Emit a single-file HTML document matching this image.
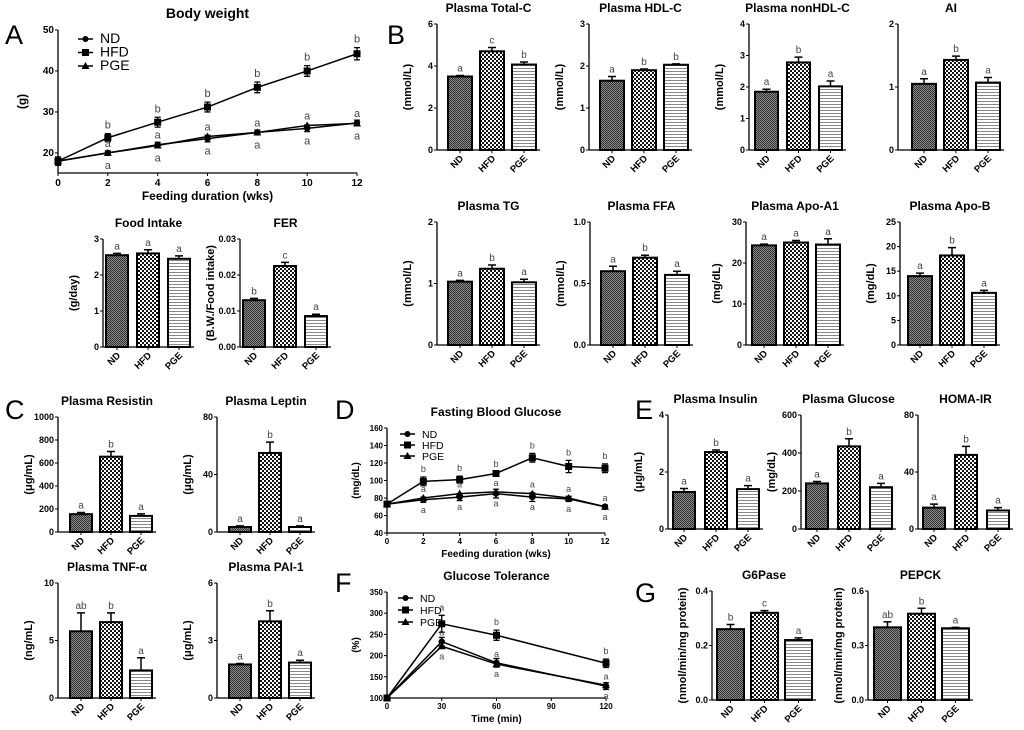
<!DOCTYPE html>
<html><head><meta charset="utf-8"><style>
body{margin:0;background:#fff;}
svg{display:block;font-family:"Liberation Sans",Arial,sans-serif;}
.t{font-weight:bold;}
</style></head><body>
<svg id="fig" width="1024" height="730" viewBox="0 0 1024 730" xmlns="http://www.w3.org/2000/svg">
<defs>
<pattern id="pND" width="2" height="2" patternUnits="userSpaceOnUse"><rect width="2" height="2" fill="#888"/><rect width="1" height="1" fill="#333"/><rect x="1" y="1" width="1" height="1" fill="#333"/></pattern>
<pattern id="pHFD" width="4" height="4" patternUnits="userSpaceOnUse"><rect width="4" height="4" fill="#fff"/><rect width="2" height="2" fill="#111"/><rect x="2" y="2" width="2" height="2" fill="#111"/></pattern>
<pattern id="pPGE" width="3" height="3" patternUnits="userSpaceOnUse"><rect width="3" height="3" fill="#fff"/><rect y="2" width="3" height="1" fill="#888"/></pattern>
</defs>
<g font-size="27">
<text x="5" y="44">A</text>
<text x="387" y="44">B</text>
<text x="5" y="419">C</text>
<text x="335" y="419">D</text>
<text x="635" y="419">E</text>
<text x="335" y="592">F</text>
<text x="635" y="602">G</text>
</g>
</svg>
<script>
const groups = ['ND','HFD','PGE'];
// Bar chart data
const foodVals=[2.55,2.6,2.45], foodErr=[0.05,0.1,0.08], foodLet=['a','a','a'];
const ferVals=[0.013,0.0225,0.0086], ferErr=[0.0005,0.001,0.0005], ferLet=['b','c','a'];
const tcVals=[3.5,4.7,4.07], tcErr=[0.05,0.18,0.12], tcLet=['a','c','b'];
const hdlVals=[1.65,1.9,2.03], hdlErr=[0.1,0.03,0.02], hdlLet=['a','b','b'];
const nonVals=[1.85,2.78,2.02], nonErr=[0.08,0.17,0.17], nonLet=['a','b','a'];
const aiVals=[1.05,1.43,1.07], aiErr=[0.08,0.06,0.08], aiLet=['a','b','a'];
const tgVals=[1.03,1.24,1.02], tgErr=[0.02,0.06,0.05], tgLet=['a','b','a'];
const ffaVals=[0.6,0.71,0.57], ffaErr=[0.04,0.02,0.03], ffaLet=['a','b','a'];
const a1Vals=[24.3,25,24.5], a1Err=[0.3,0.5,1.4], a1Let=['a','a','a'];
const abVals=[14,18.2,10.6], abErr=[0.6,1.6,0.5], abLet=['a','b','a'];
const resVals=[155,655,140], resErr=[15,45,18], resLet=['a','b','a'];
const lepVals=[3.5,55,3.5], lepErr=[0.8,7.5,0.8], lepLet=['a','b','a'];
const tnfVals=[5.8,6.6,2.4], tnfErr=[1.6,0.8,1.1], tnfLet=['ab','b','a'];
const paiVals=[1.75,4.0,1.85], paiErr=[0.05,0.55,0.12], paiLet=['a','b','a'];
const insVals=[1.3,2.7,1.4], insErr=[0.12,0.07,0.12], insLet=['a','b','a'];
const gluVals=[240,435,220], gluErr=[10,40,20], gluLet=['a','b','a'];
const homaVals=[15,52,13], homaErr=[2.5,6,2], homaLet=['a','b','a'];
const g6Vals=[0.26,0.32,0.22], g6Err=[0.017,0.008,0.008], g6Let=['b','c','a'];
const pepVals=[0.40,0.475,0.395], pepErr=[0.03,0.03,0.005], pepLet=['ab','b','a'];
// Line chart data
const bwWeeks=[0,2,4,6,8,10,12];
const bwND=[18,20,22,23.5,25,26,27.3], bwHFD=[18,23.7,27.5,31.2,36,40,44.2], bwPGE=[18,20,21.8,24,25,26.7,27.2];
const bwErrHFD=[1,1,1.2,1.2,1.3,1.3,1.5], bwErrND=[1,0.5,0.6,0.8,0.6,0.8,0.7];
const bwTicksY=[20,30,40,50], bwTicksX=[0,2,4,6,8,10,12];
const fbgWeeks=[0,2,4,6,8,10,12];
const fbgND=[73,78,81,85,81,79,70], fbgHFD=[73,99,101,108,126,116,114], fbgPGE=[73,80,85,87,85,80,70];
const fbgErrHFD=[3,5,4,2,5,7,5], fbgErrND=[2,3,4,5,5,3,2];
const fbgTicksY=[40,60,80,100,120,140,160];
const ogttTimes=[0,30,60,120];
const ogttND=[100,233,183,128], ogttHFD=[100,275,248,182], ogttPGE=[100,222,180,130];
const ogttErrHFD=[0,20,12,10], ogttErrND=[0,10,10,8];
const ogttTicksY=[100,150,200,250,300,350], ogttTicksX=[0,30,60,90,120];

const NS='http://www.w3.org/2000/svg';
const svg=document.getElementById('fig');
function mk(tag, attrs, name, parent){
  const el=document.createElementNS(NS,tag);
  for(const k in attrs) el.setAttribute(k,attrs[k]);
  
  
  (parent||svg).appendChild(el);
  return el;
}
function txt(x,y,s,size,name,opt,parent){
  const a=Object.assign({x:x,y:y,'font-size':size},opt||{});
  const t=mk('text',a,name,parent); t.textContent=s; return t;
}
function barChart(id,title,ylab,ax,yTop,yZero,max,ticks,tickLbl,vals,errs,lets,off,step,w){
  const g=mk('g',{},id+'-chart');
  const sy=v=>yZero-(v/max)*(yZero-yTop);
  const xEnd=ax+off+2*step+w+4;
  txt((ax+xEnd)/2,yTop-12,title,12,id+'-title',{'text-anchor':'middle','class':'t'},g);
  txt(0,0,ylab,11,id+'-y-axis-title',{'text-anchor':'middle','class':'t',transform:`translate(${ax-26},${(yTop+yZero)/2}) rotate(-90)`},g);
  mk('line',{x1:ax,y1:yTop,x2:ax,y2:yZero,stroke:'#000','stroke-width':1.3},id+'-y-axis',g);
  mk('line',{x1:ax,y1:yZero,x2:xEnd,y2:yZero,stroke:'#000','stroke-width':1.3},id+'-x-axis',g);
  ticks.forEach((t,i)=>{
    mk('line',{x1:ax-3,y1:sy(t),x2:ax,y2:sy(t),stroke:'#000'},id+'-y-tick',g);
    txt(ax-4,sy(t)+3,tickLbl[i],9,id+'-y-tick-label',{'text-anchor':'end','class':'t'},g);
  });
  vals.forEach((v,i)=>{
    const x=ax+off+i*step, cx=x+w/2;
    mk('rect',{x:x,y:sy(v),width:w,height:yZero-sy(v),fill:`url(#p${groups[i]})`,stroke:'#000','stroke-width':2},id+'-bar-'+groups[i].toLowerCase(),g);
    const et=sy(v+errs[i]);
    mk('path',{d:`M${cx},${sy(v)}V${et}M${cx-4},${et}H${cx+4}`,stroke:'#000','stroke-width':1.5,fill:'none'},id+'-error-bar',g);
    txt(cx,et-4,lets[i],10,id+'-sig-letter',{'text-anchor':'middle',fill:'#444'},g);
    mk('line',{x1:cx,y1:yZero,x2:cx,y2:yZero+3,stroke:'#000'},id+'-x-tick',g);
    txt(0,0,groups[i],9.5,id+'-x-label',{'text-anchor':'end','class':'t',transform:`translate(${cx+4},${yZero+9}) rotate(-45)`},g);
  });
}
function lineChart(id,title,ylab,xlab,x0,x1,yb,yt,xmin,xmax,ymin,ymax,xs,nd,hfd,pge,errH,errN,yT,xT,letH,letN,letP,legX,legY,fs,lh,lfs){
  const g=mk('g',{},id+'-chart');
  const sx=v=>x0+(v-xmin)/(xmax-xmin)*(x1-x0);
  const sy=v=>yb-(v-ymin)/(ymax-ymin)*(yb-yt);
  txt((x0+x1)/2,yt-12,title,fs+1,id+'-title',{'text-anchor':'middle','class':'t'},g);
  txt(0,0,ylab,fs-1,id+'-y-axis-title',{'text-anchor':'middle','class':'t',transform:`translate(${x0-(fs>11?32:28)},${(yt+yb)/2}) rotate(-90)`},g);
  txt((x0+x1)/2,yb+(fs>11?27:24),xlab,fs-1,id+'-x-axis-title',{'text-anchor':'middle','class':'t'},g);
  mk('line',{x1:x0,y1:yt,x2:x0,y2:yb,stroke:'#000','stroke-width':1.3},id+'-y-axis',g);
  mk('line',{x1:x0,y1:yb,x2:x1,y2:yb,stroke:'#000','stroke-width':1.3},id+'-x-axis',g);
  yT.forEach(t=>{mk('line',{x1:x0-3,y1:sy(t),x2:x0,y2:sy(t),stroke:'#000'},id+'-y-tick',g);
    txt(x0-4,sy(t)+3,String(t),fs-3,id+'-y-tick-label',{'text-anchor':'end','class':'t'},g);});
  xT.forEach(t=>{mk('line',{x1:sx(t),y1:yb,x2:sx(t),y2:yb+3,stroke:'#000'},id+'-x-tick',g);
    txt(sx(t),yb+(fs>11?13:11),String(t),fs-3,id+'-x-tick-label',{'text-anchor':'middle','class':'t'},g);});
  const ser=[[nd,'nd'],[hfd,'hfd'],[pge,'pge']];
  ser.forEach(([d,n])=>{
    mk('polyline',{points:d.map((v,i)=>sx(xs[i])+','+sy(v)).join(' '),fill:'none',stroke:'#000','stroke-width':1.5},id+'-line-'+n,g);
  });
  xs.forEach((x,i)=>{
    [[hfd,errH],[nd,errN]].forEach(([d,e])=>{if(e[i]>0){const cx=sx(x);
      mk('path',{d:`M${cx},${sy(d[i]-e[i])}V${sy(d[i]+e[i])}M${cx-3},${sy(d[i]-e[i])}H${cx+3}M${cx-3},${sy(d[i]+e[i])}H${cx+3}`,stroke:'#000','stroke-width':1.3,fill:'none'},id+'-error-bar',g);}});
    const cx=sx(x);
    mk('circle',{cx:cx,cy:sy(nd[i]),r:3.2,fill:'#000'},id+'-point-nd',g);
    mk('rect',{x:cx-3.5,y:sy(hfd[i])-3.5,width:7,height:7,fill:'#000'},id+'-point-hfd',g);
    mk('path',{d:`M${cx},${sy(pge[i])-4}L${cx+4},${sy(pge[i])+3}L${cx-4},${sy(pge[i])+3}Z`,fill:'#000'},id+'-point-pge',g);
    if(letH[i]) txt(cx,sy(hfd[i]+errH[i])-5,letH[i],fs-2,id+'-sig-letter',{'text-anchor':'middle',fill:'#444'},g);
    if(letP[i]) txt(cx,sy(Math.max(pge[i],nd[i]))-6,letP[i],fs-2,id+'-sig-letter',{'text-anchor':'middle',fill:'#444'},g);
    if(letN[i]) txt(cx,sy(Math.min(pge[i],nd[i]))+(fs>11?16:13),letN[i],fs-2,id+'-sig-letter',{'text-anchor':'middle',fill:'#444'},g);
  });
  ['ND','HFD','PGE'].forEach((s,i)=>{
    const y=legY+i*lh;
    mk('line',{x1:legX,y1:y,x2:legX+15,y2:y,stroke:'#000','stroke-width':1.5},id+'-legend-line',g);
    if(i==0) mk('circle',{cx:legX+7.5,cy:y,r:3,fill:'#000'},id+'-legend-marker',g);
    if(i==1) mk('rect',{x:legX+4,y:y-3.5,width:7,height:7,fill:'#000'},id+'-legend-marker',g);
    if(i==2) mk('path',{d:`M${legX+7.5},${y-4}L${legX+11.5},${y+3}L${legX+3.5},${y+3}Z`,fill:'#000'},id+'-legend-marker',g);
    txt(legX+22,y+4,s,lfs,id+'-legend-entry-'+s.toLowerCase(),{},g);
  });
}
// Panel A
lineChart('body-weight','Body weight','(g)','Feeding duration (wks)',58,357,173,30,0,12,15.1,50,bwWeeks,bwND,bwHFD,bwPGE,bwErrHFD,bwErrND,bwTicksY,bwTicksX,
  ['','b','b','b','b','b','b'],['','a','a','a','a','a','a'],['','a','a','a','a','a','a'],78,39,13,13.5,14);
barChart('food-intake','Food Intake','(g/day)',103,239,347,3,[0,1,2,3],['0','1','2','3'],foodVals,foodErr,foodLet,3,31,22);
barChart('fer','FER','(B.W./Food intake)',240,239,347,0.03,[0,0.01,0.02,0.03],['0.00','0.01','0.02','0.03'],ferVals,ferErr,ferLet,3,31,22);
// Panel B
barChart('total-c','Plasma Total-C','(mmol/L)',437,24,150,6,[0,2,4,6],['0','2','4','6'],tcVals,tcErr,tcLet,11,32,24);
barChart('hdl-c','Plasma HDL-C','(mmol/L)',589,24,150,3,[0,1,2,3],['0','1','2','3'],hdlVals,hdlErr,hdlLet,11,32,24);
barChart('nonhdl-c','Plasma nonHDL-C','(mmol/L)',749,24,150,4,[0,1,2,3,4],['0','1','2','3','4'],nonVals,nonErr,nonLet,6,32,23);
barChart('ai','AI','',898,24,150,2,[0,1,2],['0','1','2'],aiVals,aiErr,aiLet,14,32,24);
barChart('tg','Plasma TG','(mmol/L)',437,222,345,2,[0,1,2],['0','1','2'],tgVals,tgErr,tgLet,11,32,24);
barChart('ffa','Plasma FFA','(mmol/L)',590,222,345,1,[0,0.5,1],['0.0','0.5','1.0'],ffaVals,ffaErr,ffaLet,11,32,24);
barChart('apo-a1','Plasma Apo-A1','(mg/dL)',746,222,345,30,[0,10,20,30],['0','10','20','30'],a1Vals,a1Err,a1Let,6,32,24);
barChart('apo-b','Plasma Apo-B','(mg/dL)',900,222,345,25,[0,5,10,15,20,25],['0','5','10','15','20','25'],abVals,abErr,abLet,8,32,24);
// Panel C
barChart('resistin','Plasma Resistin','(μg/mL)',58,417,532,1000,[0,200,400,600,800,1000],['0','200','400','600','800','1000'],resVals,resErr,resLet,12,30,22);
barChart('leptin','Plasma Leptin','(μg/mL)',217,417,532,80,[0,40,80],['0','40','80'],lepVals,lepErr,lepLet,12,30,22);
barChart('tnf','Plasma TNF-α','(ng/mL)',58,583,698,10,[0,5,10],['0','5','10'],tnfVals,tnfErr,tnfLet,12,30,22);
barChart('pai-1','Plasma PAI-1','(μg/mL)',217,583,698,6,[0,3,6],['0','3','6'],paiVals,paiErr,paiLet,12,30,22);
// Panel D
lineChart('fasting-glucose','Fasting Blood Glucose','(mg/dL)','Feeding duration (wks)',387,605,533,428,0,12,40,160,fbgWeeks,fbgND,fbgHFD,fbgPGE,fbgErrHFD,fbgErrND,fbgTicksY,bwTicksX,
  ['','b','b','b','b','b','b'],['','a','a','a','a','a','a'],['','a','a','a','a','a','a'],400,434,11,11,10.5);
// Panel E
barChart('insulin','Plasma Insulin','(μg/mL)',668,415,529,4,[0,2,4],['0','2','4'],insVals,insErr,insLet,5,32,22);
barChart('glucose','Plasma Glucose','(mg/dL)',801,415,529,600,[0,200,400,600],['0','200','400','600'],gluVals,gluErr,gluLet,5,32,22);
barChart('homa-ir','HOMA-IR','',918,415,529,80,[0,40,80],['0','40','80'],homaVals,homaErr,homaLet,5,32,22);
// Panel F
lineChart('glucose-tolerance','Glucose Tolerance','(%)','Time (min)',387,606,698,592,0,120,100,350,ogttTimes,ogttND,ogttHFD,ogttPGE,ogttErrHFD,ogttErrND,ogttTicksY,ogttTicksX,
  ['','a','b','b'],['','a','a','a'],['','a','a','a'],398,598,11,12,10.5);
// Panel G
barChart('g6pase','G6Pase','(nmol/min/mg protein)',712,591,700,0.4,[0,0.2,0.4],['0.0','0.2','0.4'],g6Vals,g6Err,g6Let,5,34,27);
barChart('pepck','PEPCK','(nmol/min/mg protein)',868,591,700,0.6,[0,0.3,0.6],['0.0','0.3','0.6'],pepVals,pepErr,pepLet,6,34,27);
</script>
</body></html>
